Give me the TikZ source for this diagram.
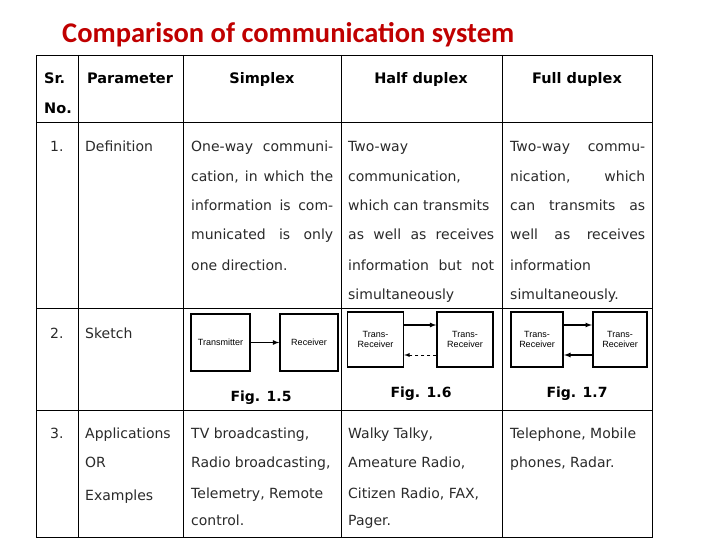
\documentclass[tikz,border=0pt]{standalone}
\usepackage{fontspec}
\setmainfont{DejaVu Sans}
\newfontfamily\titlefont{Carlito}
\newfontfamily\boxfont{Liberation Sans}
\definecolor{titlered}{HTML}{C00000}
\definecolor{bodytxt}{HTML}{2A2A2A}
\begin{document}
\begin{tikzpicture}[x=1pt,y=-1pt,
  cell/.style={anchor=base west,inner sep=0pt,font=\fontsize{14}{16}\selectfont,text=bodytxt},
  head/.style={anchor=base,inner sep=0pt,font=\fontsize{14.5}{16}\selectfont\bfseries},
  fig/.style={anchor=base,inner sep=0pt,font=\fontsize{14}{16}\selectfont\bfseries},
  blk/.style={draw,line width=1.4pt,inner sep=0pt,align=center,font=\boxfont\fontsize{9}{10}\selectfont},
  tbl/.style={line width=0.8pt},
  arr/.style={-latex,line width=1.2pt}]
\useasboundingbox (0,0) rectangle (720,540);
\fill[white] (0,0) rectangle (720,540);
\node[anchor=base west,inner sep=0pt,text=titlered,font=\titlefont\fontsize{28.5}{32}\selectfont\bfseries] (title) at (62,43) {Comparison of communication system};
% table grid
\draw[tbl] (36,55) rectangle (652,537);
\foreach \x in {78,183,341,502} \draw[tbl] (\x,55) -- (\x,537);
\foreach \y in {122,308,410} \draw[tbl] (36,\y) -- (652,\y);
% header
\node[head,anchor=base west] (h1) at (44,84) {Sr.};
\node[head,anchor=base west] (h1b) at (44,114) {No.};
\node[head] (h2) at (130,84) {Parameter};
\node[head] (h3) at (262,84) {Simplex};
\node[head] (h4) at (421,84) {Half duplex};
\node[head] (h5) at (577,84) {Full duplex};
% row 1
\node[cell] (n1) at (50,152) {1.};
\node[cell] (p1) at (85,152) {Definition};
\node[cell] (s1a) at (191,152) {\makebox[142pt][s]{One-way communi-}};
\node[cell] (s1b) at (191,182) {\makebox[142pt][s]{cation, in which the}};
\node[cell] (s1c) at (191,211) {\makebox[142pt][s]{information is com-}};
\node[cell] (s1d) at (191,240) {\makebox[142pt][s]{municated is only}};
\node[cell] (s1e) at (191,270) {one direction.};
\node[cell] (h1a) at (348,152) {Two-way};
\node[cell] (h1b) at (348,182) {communication,};
\node[cell] (h1c) at (348,211) {which can transmits};
\node[cell] (h1d) at (348,240) {\makebox[146pt][s]{as well as receives}};
\node[cell] (h1e) at (348,270) {\makebox[146pt][s]{information but not}};
\node[cell] (h1f) at (348,299) {simultaneously};
\node[cell] (f1a) at (510,152) {\makebox[135pt][s]{Two-way commu-}};
\node[cell] (f1b) at (510,182) {\makebox[135pt][s]{nication, which}};
\node[cell] (f1c) at (510,211) {\makebox[135pt][s]{can transmits as}};
\node[cell] (f1d) at (510,240) {\makebox[135pt][s]{well as receives}};
\node[cell] (f1e) at (510,270) {information};
\node[cell] (f1f) at (510,299) {simultaneously.};
% row 2
\node[cell] (n2) at (50,338) {2.};
\node[cell] (p2) at (85,338) {Sketch};
\node[blk,minimum width=59pt,minimum height=57pt] (tx) at (220.5,342.5) {Transmitter};
\node[blk,minimum width=58pt,minimum height=57pt] (rx) at (309,342.5) {Receiver};
\draw[arr] (tx) -- (rx);
\node[fig] (fig5) at (261,401) {Fig. 1.5};
\node[blk,minimum width=56pt,minimum height=55pt] (t6a) at (375.5,339.5) {Trans-\\Receiver};
\node[blk,minimum width=56pt,minimum height=55pt] (t6b) at (465,339.5) {Trans-\\Receiver};
\draw[arr] (t6a.east |- 0,325) -- (t6b.west |- 0,325);
\draw[-latex,line width=0.9pt,dashed] (t6b.west |- 0,355) -- (t6a.east |- 0,355);
\node[fig] (fig6) at (421,397) {Fig. 1.6};
\node[blk,line width=2.2pt,minimum width=52pt,minimum height=55pt] (t7a) at (537,339.5) {Trans-\\Receiver};
\node[blk,line width=2.2pt,minimum width=54pt,minimum height=55pt] (t7b) at (620,339.5) {Trans-\\Receiver};
\draw[arr] (t7a.east |- 0,325) -- (t7b.west |- 0,325);
\draw[arr] (t7b.west |- 0,355) -- (t7a.east |- 0,355);
\node[fig] (fig7) at (577,397) {Fig. 1.7};
% row 3
\node[cell] (n3) at (50,438) {3.};
\node[cell] (p3a) at (85,438) {Applications};
\node[cell] (p3b) at (85,467) {OR};
\node[cell] (p3c) at (85,500) {Examples};
\node[cell] (s3a) at (191,438) {TV broadcasting,};
\node[cell] (s3b) at (191,467) {Radio broadcasting,};
\node[cell] (s3c) at (191,498) {Telemetry, Remote};
\node[cell] (s3d) at (191,525) {control.};
\node[cell] (h3a) at (348,438) {Walky Talky,};
\node[cell] (h3b) at (348,467) {Ameature Radio,};
\node[cell] (h3c) at (348,498) {Citizen Radio, FAX,};
\node[cell] (h3d) at (348,525) {Pager.};
\node[cell] (f3a) at (510,438) {Telephone, Mobile};
\node[cell] (f3b) at (510,467) {phones, Radar.};
\end{tikzpicture}
\end{document}
